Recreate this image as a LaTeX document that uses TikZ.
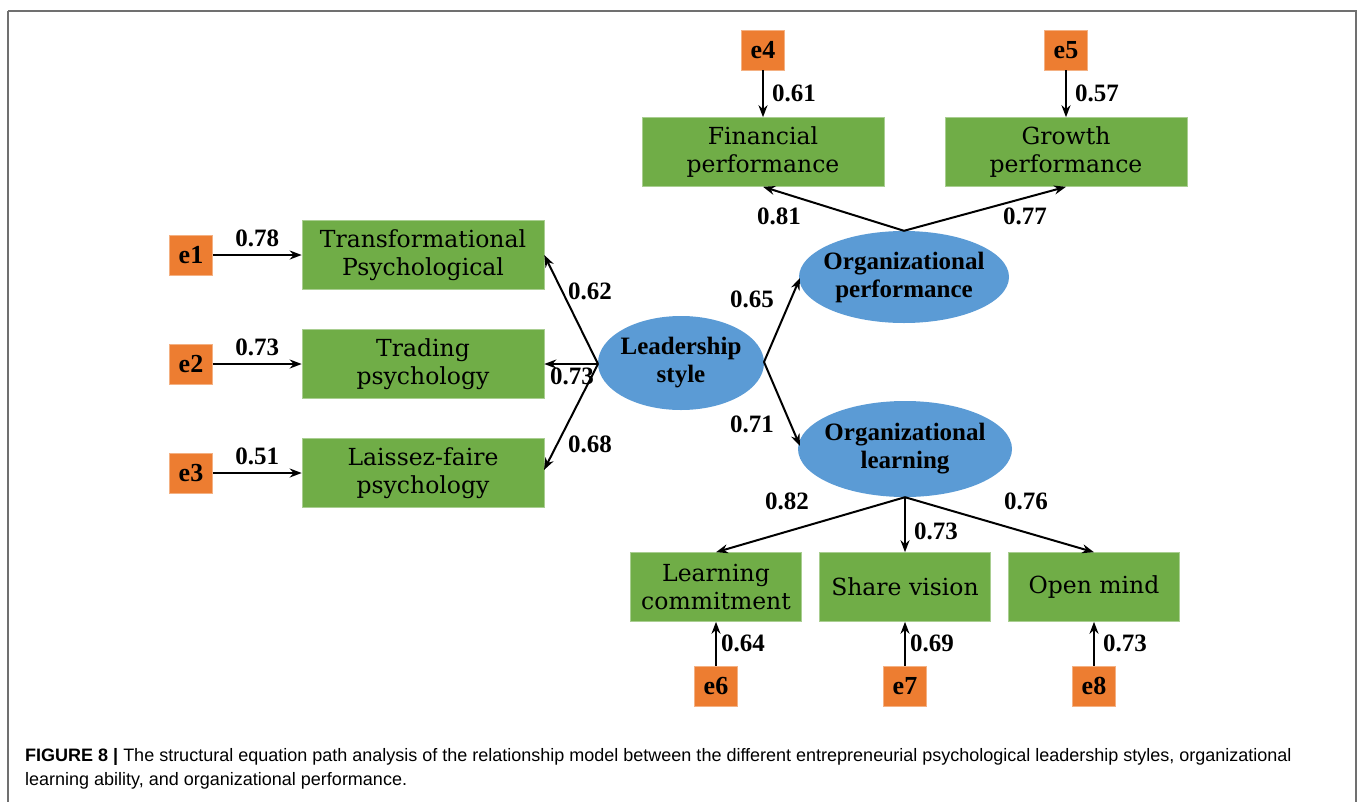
\documentclass[tikz,border=0pt]{standalone}
\usepackage{fontspec}
\setmainfont{Liberation Serif}
\newfontfamily\boxfont{DejaVu Serif}
\newfontfamily\capfont{Liberation Sans}
\usetikzlibrary{shapes.geometric,arrows.meta}
\definecolor{gbox}{HTML}{70AD47}
\definecolor{obox}{HTML}{ED7D31}
\definecolor{bell}{HTML}{5B9BD5}
\definecolor{frame}{HTML}{707070}
\begin{document}
\begin{tikzpicture}[x=1pt,y=-1pt,
  obs/.style={fill=gbox,draw=gbox!60!white,line width=0.6pt,minimum width=242pt,minimum height=69pt,inner sep=0pt,align=center,font=\boxfont\fontsize{23.5}{28}\selectfont},
  obs2/.style={obs,minimum width=171pt,minimum height=69pt},
  err/.style={fill=obox,draw=obox!60!white,line width=0.6pt,minimum width=43pt,minimum height=40pt,inner sep=0pt,font=\bfseries\fontsize{26}{28}\selectfont},
  lat/.style={ellipse,fill=bell,inner sep=-14pt,align=center,font=\bfseries\fontsize{25}{28}\selectfont},
  path/.style={line width=2pt,-{Stealth[length=12pt,width=9pt]}},
  num/.style={font=\bfseries\fontsize{25}{28}\selectfont,inner sep=0pt}]
\useasboundingbox (0,0) rectangle (1360,801);
\draw[frame,line width=1.4pt] (8,11) -- (1356,11) -- (1356,810) (8,11) -- (8,810);

% error terms
\node[err] (e1) at (191,255) {e1};
\node[err] (e2) at (191,364) {e2};
\node[err] (e3) at (191,473) {e3};
\node[err] (e4) at (763,50) {e4};
\node[err] (e5) at (1066,50) {e5};
\node[err] (e6) at (716,686) {e6};
\node[err] (e7) at (905,686) {e7};
\node[err] (e8) at (1094,686) {e8};

% observed
\node[obs] (tp) at (423,255) {Transformational\\Psychological};
\node[obs] (tr) at (423,364) {Trading\\psychology};
\node[obs] (lf) at (423,473) {Laissez-faire\\psychology};
\node[obs] (fp) at (763,152) {Financial\\performance};
\node[obs] (gp) at (1066,152) {Growth\\performance};
\node[obs2] (lc) at (716,587) {Learning\\commitment};
\node[obs2] (sv) at (905,587) {Share vision};
\node[obs2] (om) at (1094,587) {Open mind};

% latent
\node[lat,minimum width=166pt,minimum height=94pt] (ls) at (681,363) {Leadership\\style};
\node[lat,minimum width=210pt,minimum height=92pt] (op) at (904,277) {Organizational\\performance};
\node[lat,minimum width=214pt,minimum height=96pt] (ol) at (905,449) {Organizational\\learning};

% error paths
\draw[path] (e1) -- (tp) node[num,midway,above=7pt] {0.78};
\draw[path] (e2) -- (tr) node[num,midway,above=7pt] {0.73};
\draw[path] (e3) -- (lf) node[num,midway,above=7pt] {0.51};
\draw[path] (e4) -- (fp) node[num,midway,right=8pt] {0.61};
\draw[path] (e5) -- (gp) node[num,midway,right=8pt] {0.57};
\draw[path] (e6) -- (lc) node[num,midway,right=4pt] {0.64};
\draw[path] (e7) -- (sv) node[num,midway,right=4pt] {0.69};
\draw[path] (e8) -- (om) node[num,midway,right=8pt] {0.73};

% leadership paths
\coordinate (lsw) at (598,364);
\draw[path] (lsw) -- (tp.east);
\draw[path] (lsw) -- (tr.east);
\draw[path] (lsw) -- (544,470);
\node[num] (n62) at (590,291) {0.62};
\node[num] (n73) at (572,376) {0.73};
\node[num] (n68) at (590,444) {0.68};

\coordinate (lse) at (764,362);
\draw[path] (lse) -- (800,278);
\draw[path] (lse) -- (800,446);
\node[num] (n65) at (752,299) {0.65};
\node[num] (n71) at (752,424) {0.71};

% org performance
\draw[path] (op.north) -- (fp.south);
\draw[path] (op.north) -- (gp.south);
\node[num] (n81) at (779,216) {0.81};
\node[num] (n77) at (1025,216) {0.77};

% org learning
\draw[path] (ol.south) -- (lc.north);
\draw[path] (ol.south) -- (sv.north);
\draw[path] (ol.south) -- (om.north);
\node[num] (n82) at (787,501) {0.82};
\node[num] (n73b) at (936,531) {0.73};
\node[num] (n76) at (1026,501) {0.76};

% caption
\node[anchor=north west,inner sep=0pt,align=left,font=\capfont\fontsize{18}{24}\selectfont] (cap) at (25,748)
 {\textbf{FIGURE 8 |} The structural equation path analysis of the relationship model between the different entrepreneurial psychological leadership styles, organizational\\learning ability, and organizational performance.};
\end{tikzpicture}
\end{document}
